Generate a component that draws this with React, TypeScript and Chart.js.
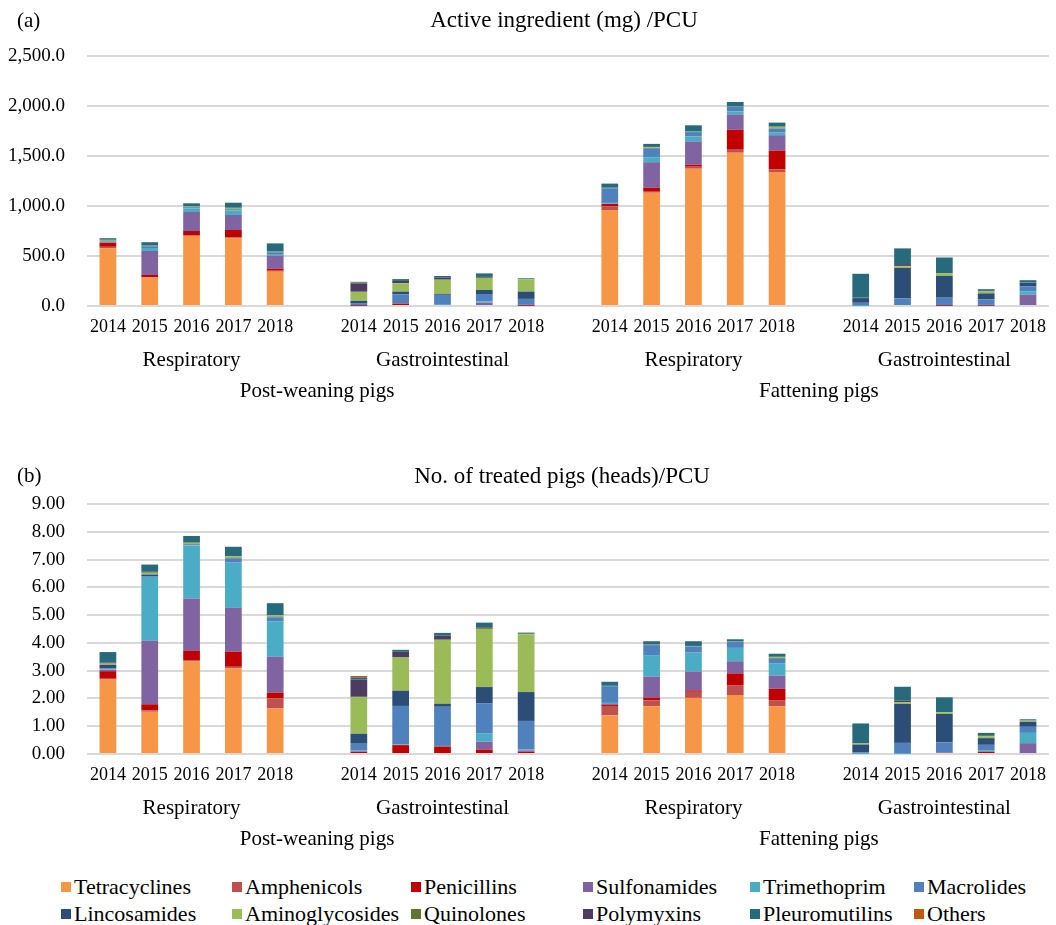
import React, { useEffect, useRef } from "react";
import { Chart, registerables } from "chart.js";

Chart.register(...registerables);

const YEARS = ["2014", "2015", "2016", "2017", "2018"];
const CATEGORIES = ["Respiratory", "Gastrointestinal", "Respiratory", "Gastrointestinal"];
const PIG_TYPES = ["Post-weaning pigs", "Fattening pigs"];

const SERIES_NAMES = [
  "Tetracyclines", "Amphenicols", "Penicillins", "Sulfonamides", "Trimethoprim", "Macrolides",
  "Lincosamides", "Aminoglycosides", "Quinolones", "Polymyxins", "Pleuromutilins", "Others",
];
const SERIES_COLORS = [
  "#F79646", "#C0504D", "#C00000", "#8064A2", "#4BACC6", "#4F81BD",
  "#2C4D75", "#9BBB59", "#5F7530", "#4D3B62", "#276A7C", "#C0580F",
];

// Panel (a): Active ingredient (mg)/PCU — 20 bars: PW-Resp, PW-GI, F-Resp, F-GI (2014..2018 each)
const tetracyclinesA = [577, 283, 700, 677, 343, 0, 0, 0, 0, 0, 960, 1133, 1373, 1533, 1340, 0, 0, 0, 0, 0];
const amphenicolsA = [15, 5, 5, 8, 10, 0, 0, 0, 0, 0, 38, 17, 20, 30, 25, 0, 0, 0, 0, 0];
const penicillinsA = [40, 22, 45, 75, 22, 3, 25, 10, 10, 3, 22, 33, 20, 200, 190, 0, 0, 3, 3, 0];
const sulfonamidesA = [5, 240, 190, 150, 130, 3, 0, 0, 25, 5, 3, 255, 233, 153, 153, 0, 0, 0, 0, 115];
const trimethoprimA = [5, 30, 35, 45, 15, 3, 2, 2, 12, 3, 8, 50, 50, 30, 30, 2, 0, 0, 8, 33];
const macrolidesA = [5, 15, 10, 10, 12, 20, 90, 100, 73, 60, 145, 85, 43, 45, 33, 30, 77, 80, 55, 50];
const lincosamidesA = [5, 5, 5, 5, 5, 22, 27, 10, 40, 73, 3, 5, 3, 3, 3, 47, 303, 217, 60, 37];
const aminoglycosidesA = [8, 3, 5, 10, 5, 90, 83, 140, 120, 123, 3, 10, 3, 3, 17, 3, 18, 25, 20, 3];
const quinolonesA = [3, 0, 0, 3, 2, 2, 2, 2, 3, 2, 0, 3, 0, 0, 3, 0, 3, 3, 5, 0];
const polymyxinsA = [0, 0, 0, 0, 0, 80, 22, 20, 8, 0, 0, 0, 0, 0, 0, 0, 18, 0, 0, 0];
const pleuromutilinsA = [15, 35, 32, 50, 82, 12, 18, 16, 35, 8, 42, 30, 62, 43, 40, 240, 157, 157, 17, 20];
const othersA = [0, 0, 0, 0, 0, 7, 0, 0, 0, 0, 0, 0, 0, 0, 0, 0, 0, 0, 0, 0];

// Panel (b): No. of treated pigs (heads)/PCU
const tetracyclinesB = [2.68, 1.52, 3.33, 3.09, 1.64, 0, 0, 0, 0, 0, 1.39, 1.72, 2.02, 2.12, 1.72, 0, 0, 0, 0, 0];
const amphenicolsB = [0.03, 0.05, 0.05, 0.05, 0.36, 0, 0, 0, 0, 0, 0.34, 0.21, 0.22, 0.36, 0.22, 0, 0, 0, 0, 0];
const penicillinsB = [0.27, 0.22, 0.34, 0.54, 0.21, 0.08, 0.32, 0.27, 0.16, 0.08, 0.05, 0.1, 0.05, 0.42, 0.41, 0, 0, 0.05, 0.08, 0];
const sulfonamidesB = [0.05, 2.29, 1.88, 1.58, 1.29, 0.02, 0, 0, 0.29, 0.05, 0.02, 0.76, 0.68, 0.44, 0.47, 0, 0, 0, 0, 0.39];
const trimethoprimB = [0.02, 2.29, 1.91, 1.63, 1.28, 0.02, 0.02, 0.02, 0.3, 0.03, 0.04, 0.77, 0.68, 0.48, 0.45, 0.01, 0.01, 0.01, 0.04, 0.37];
const macrolidesB = [0.03, 0.03, 0.02, 0.14, 0.14, 0.25, 1.39, 1.41, 1.08, 1.03, 0.6, 0.36, 0.22, 0.22, 0.15, 0.05, 0.39, 0.36, 0.21, 0.22];
const lincosamidesB = [0.13, 0.06, 0.02, 0.02, 0.02, 0.36, 0.55, 0.11, 0.58, 1.04, 0.02, 0.02, 0.01, 0.01, 0.02, 0.28, 1.4, 1.02, 0.24, 0.18];
const aminoglycosidesB = [0.04, 0.06, 0.05, 0.06, 0.05, 1.31, 1.19, 2.29, 2.09, 2.08, 0, 0.02, 0.01, 0.01, 0.05, 0.04, 0.06, 0.06, 0.07, 0.04];
const quinolonesB = [0.02, 0.02, 0.01, 0.01, 0.01, 0.02, 0.02, 0.02, 0.03, 0.02, 0, 0, 0, 0, 0.01, 0, 0.01, 0.01, 0.04, 0.01];
const polymyxinsB = [0.02, 0.02, 0, 0, 0, 0.62, 0.19, 0.14, 0.03, 0, 0, 0, 0, 0, 0, 0, 0.05, 0, 0, 0];
const pleuromutilinsB = [0.38, 0.26, 0.24, 0.34, 0.43, 0.08, 0.07, 0.1, 0.17, 0.04, 0.14, 0.1, 0.17, 0.07, 0.11, 0.72, 0.5, 0.53, 0.08, 0.04];
const othersB = [0, 0, 0, 0, 0, 0.05, 0, 0, 0, 0, 0, 0, 0, 0, 0, 0, 0, 0, 0, 0];

const SERIES_A = [tetracyclinesA, amphenicolsA, penicillinsA, sulfonamidesA, trimethoprimA, macrolidesA,
  lincosamidesA, aminoglycosidesA, quinolonesA, polymyxinsA, pleuromutilinsA, othersA];
const SERIES_B = [tetracyclinesB, amphenicolsB, penicillinsB, sulfonamidesB, trimethoprimB, macrolidesB,
  lincosamidesB, aminoglycosidesB, quinolonesB, polymyxinsB, pleuromutilinsB, othersB];

const FONT = "'Liberation Serif', 'Times New Roman', serif";

// 4 groups of 5 years with a blank slot between groups -> 23 slots
function expand<T>(arr: T[], blank: T): T[] {
  const out: T[] = [];
  for (let g = 0; g < 4; g++) {
    if (g > 0) out.push(blank);
    for (let i = 0; i < 5; i++) out.push(arr[g * 5 + i]);
  }
  return out;
}

const yearLabels = expand(Array.from({ length: 20 }, (_, i) => YEARS[i % 5]), "");
const catLabels = yearLabels.map(() => "");
CATEGORIES.forEach((c, g) => { catLabels[g * 6 + 2] = c; });
const pigLabels = yearLabels.map(() => "");
PIG_TYPES.forEach((p, i) => { pigLabels[i * 12 + 5] = p; });

function makeConfig(series: number[][], max: number, step: number, fmt: (v: number) => string): any {
  const fontYear = { family: FONT, size: 18 };
  const fontCat = { family: FONT, size: 21 };
  const fontY = { family: FONT, size: 19 };
  return {
    type: "bar",
    data: {
      labels: yearLabels,
      datasets: series.map((s, i) => ({
        label: SERIES_NAMES[i],
        data: expand<number | null>(s, null),
        backgroundColor: SERIES_COLORS[i],
        borderWidth: 0,
        categoryPercentage: 1,
        barPercentage: 0.4,
        xAxisID: "x",
      })),
    },
    options: {
      responsive: false,
      animation: false,
      layout: { padding: { top: 56, left: 0, right: 0, bottom: 4 } },
      plugins: { legend: { display: false }, tooltip: { enabled: false }, title: { display: false } },
      scales: {
        x: {
          stacked: true,
          weight: 0,
          grid: { display: false, drawTicks: false },
          border: { display: false },
          ticks: { color: "#000", font: fontYear, autoSkip: false, maxRotation: 0, minRotation: 0, padding: 10 },
          afterFit: (s: any) => { s.height = 40; },
        },
        x2: {
          type: "category",
          labels: catLabels,
          position: "bottom",
          offset: true,
          weight: 1,
          grid: { display: false, drawTicks: false },
          border: { display: false },
          ticks: { color: "#000", font: fontCat, autoSkip: false, maxRotation: 0, minRotation: 0, padding: 2 },
          afterFit: (s: any) => { s.height = 30; },
        },
        x3: {
          type: "category",
          labels: pigLabels,
          position: "bottom",
          offset: true,
          weight: 2,
          grid: { display: false, drawTicks: false },
          border: { display: false },
          ticks: { color: "#000", font: fontCat, autoSkip: false, maxRotation: 0, minRotation: 0, padding: 3 },
          afterFit: (s: any) => { s.height = 30; },
        },
        y: {
          stacked: true,
          min: 0,
          max,
          grid: { color: "#d9d9d9", lineWidth: 2, drawTicks: false },
          border: { display: false },
          ticks: { stepSize: step, color: "#000", font: fontY, padding: 22, callback: (v: any) => fmt(Number(v)) },
          afterFit: (s: any) => { s.width = 87; },
        },
      },
    },
  };
}

function ChartPanel({ series, max, step, fmt }: { series: number[][]; max: number; step: number; fmt: (v: number) => string }) {
  const ref = useRef<HTMLCanvasElement | null>(null);
  useEffect(() => {
    if (!ref.current) return;
    const chart = new Chart(ref.current, makeConfig(series, max, step, fmt));
    return () => chart.destroy();
  }, []);
  return <canvas ref={ref} width={1056} height={410} style={{ display: "block" }} />;
}

const fmtA = (v: number) => v.toLocaleString("en-US", { minimumFractionDigits: 1, maximumFractionDigits: 1 });
const fmtB = (v: number) => v.toFixed(2);

const LEGEND_COLS = [61, 232, 411, 583, 750, 914];

export default function App() {
  const textStyle: React.CSSProperties = { position: "absolute", fontFamily: FONT, fontSize: 21, color: "#000", whiteSpace: "nowrap", lineHeight: "22px" };
  return (
    <div style={{ position: "absolute", left: 0, top: 0, width: 1056, height: 925, background: "#fff", overflow: "hidden" }}>
      <div style={{ position: "absolute", left: 0, top: 0 }}>
        <ChartPanel series={SERIES_A} max={2500} step={500} fmt={fmtA} />
      </div>
      <div style={{ position: "absolute", left: 0, top: 448 }}>
        <ChartPanel series={SERIES_B} max={9} step={1} fmt={fmtB} />
      </div>
      <div style={{ ...textStyle, left: 17, top: 9 }}>(a)</div>
      <div style={{ ...textStyle, left: 564, top: 9, fontSize: 23, transform: "translateX(-50%)" }}>Active ingredient (mg) /PCU</div>
      <div style={{ ...textStyle, left: 17, top: 464 }}>(b)</div>
      <div style={{ ...textStyle, left: 562, top: 465, fontSize: 23, transform: "translateX(-50%)" }}>No. of treated pigs (heads)/PCU</div>
      {SERIES_NAMES.map((name, i) => {
        const col = i % 6;
        const row = Math.floor(i / 6);
        return (
          <div key={name} style={{ ...textStyle, left: LEGEND_COLS[col], top: 876 + row * 27, display: "flex", alignItems: "center", fontSize: 22 }}>
            <span style={{ display: "inline-block", width: 10, height: 10, background: SERIES_COLORS[i], marginRight: 3 }} />
            <span>{name}</span>
          </div>
        );
      })}
    </div>
  );
}
